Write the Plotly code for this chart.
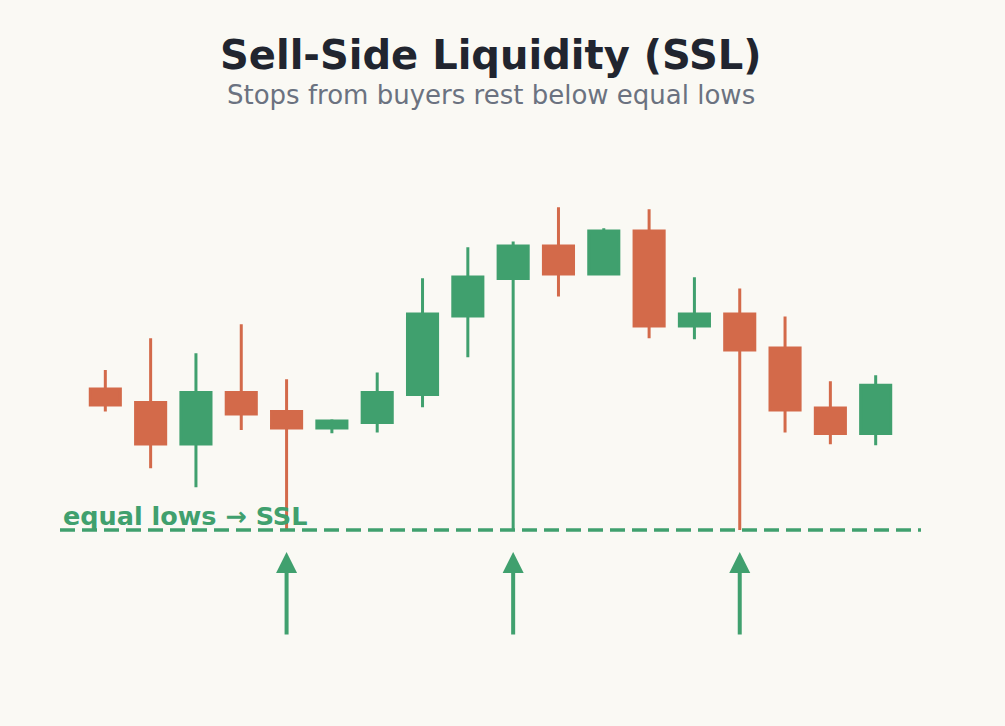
import plotly.graph_objects as go

# candle data (price units, equal lows sit at 100)
idx = list(range(18))
opens = [107.05, 106.37, 104.30, 106.87, 105.92, 105.10, 105.37, 106.77, 110.70,
         112.57, 114.20, 112.80, 114.95, 110.20, 110.80, 109.10, 106.10, 104.82]
highs = [108.00, 109.59, 108.84, 110.29, 107.54, 105.54, 107.87, 112.59, 114.14,
         114.42, 116.14, 115.09, 116.04, 112.64, 112.07, 110.67, 107.44, 107.74]
lows = [105.92, 103.09, 102.14, 105.00, 100.00, 104.84, 104.87, 106.14, 108.64,
        100.00, 111.67, 112.74, 109.59, 109.54, 100.00, 104.87, 104.29, 104.24]
closes = [106.25, 104.30, 106.87, 105.80, 105.10, 105.45, 106.87, 110.80, 112.65,
          114.20, 112.80, 114.95, 110.20, 110.80, 109.00, 106.00, 104.82, 107.24]

ssl_level = 100.0
sweep_idx = [4, 9, 14]

GREEN = "#40A06E"
RED = "#D36A4A"
BG = "#FAF9F4"

fig = go.Figure()

fig.add_trace(go.Candlestick(
    x=idx, open=opens, high=highs, low=lows, close=closes,
    increasing=dict(line=dict(color=GREEN, width=3), fillcolor=GREEN),
    decreasing=dict(line=dict(color=RED, width=3), fillcolor=RED),
    hoverinfo="skip", showlegend=False,
))

# equal lows line
fig.add_trace(go.Scatter(
    x=[-1, 18], y=[ssl_level, ssl_level], mode="lines",
    line=dict(color=GREEN, width=3.5, dash="15px,7px"),
    hoverinfo="skip", showlegend=False,
))

fig.add_annotation(
    x=-0.98, y=ssl_level, xref="x", yref="y", xanchor="left", yanchor="bottom",
    text="equal lows → SSL", showarrow=False, yshift=-3,
    font=dict(family="DejaVu Sans", size=25.5, color=GREEN, weight="bold"),
)

# arrows under the sweeps
for i in sweep_idx:
    fig.add_annotation(
        x=i, y=98.9, ax=i, ay=94.7, xref="x", yref="y", axref="x", ayref="y",
        text="", showarrow=True, arrowhead=2, arrowsize=1.05, arrowwidth=4,
        arrowcolor=GREEN,
    )

fig.add_annotation(
    x=0.5, y=1.134, xref="paper", yref="paper", xanchor="center", yanchor="middle",
    text="<b>Sell-Side Liquidity (SSL)</b>", showarrow=False,
    font=dict(family="DejaVu Sans", size=40, color="#21252F"),
)
fig.add_annotation(
    x=0.5, y=1.063, xref="paper", yref="paper", xanchor="center", yanchor="middle",
    text="Stops from buyers rest below equal lows", showarrow=False,
    font=dict(family="DejaVu Sans", size=26, color="#6B7280"),
)

fig.update_layout(
    width=1005, height=726,
    margin=dict(l=60, r=84, t=130, b=36),
    paper_bgcolor=BG, plot_bgcolor=BG,
    boxgap=0.185, boxgroupgap=0.185,
    xaxis=dict(range=[-1, 18], visible=False, rangeslider=dict(visible=False)),
    yaxis=dict(range=[92, 120], visible=False),
)

fig.write_html(
    "out.html",
    config={"displayModeBar": False},
    post_script="document.body.style.margin='0';document.body.style.background='" + BG + "';",
)
